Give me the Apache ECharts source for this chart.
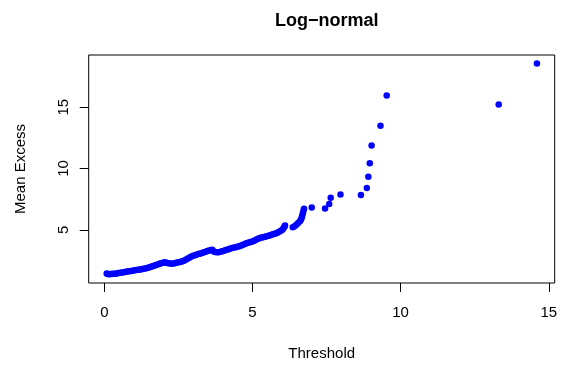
<!DOCTYPE html>
<html>
<head>
<meta charset="utf-8">
<script src="https://cdn.jsdelivr.net/npm/echarts@6/dist/echarts.min.js"></script>
<style>html,body{margin:0;padding:0;background:#fff;}#c{width:567px;height:366px;}</style>
</head>
<body>
<div id="c"></div>
<script>
var titleText = "Log\u2212normal";
var xName = "Threshold";
var yName = "Mean Excess";
var xTicks = [0, 5, 10, 15];
var yTicks = [5, 10, 15];
var thresholds = [
  0.08,0.12,0.16,0.20,0.25,0.30,0.36,0.42,0.48,0.54,0.60,0.66,0.72,0.78,0.84,0.90,0.96,
  1.02,1.08,1.14,1.20,1.26,1.32,1.38,1.44,1.50,1.56,1.62,1.68,1.74,1.80,1.86,1.92,1.98,
  2.04,2.10,2.16,2.22,2.28,2.34,2.40,2.46,2.52,2.58,2.64,2.70,2.76,2.82,2.88,2.94,
  3.00,3.06,3.12,3.18,3.24,3.30,3.36,3.42,3.48,3.54,3.60,3.64,3.68,3.74,3.80,3.86,3.92,3.98,
  4.04,4.10,4.16,4.22,4.28,4.34,4.40,4.46,4.52,4.58,4.64,4.70,4.76,4.82,4.88,4.94,
  5.00,5.06,5.12,5.18,5.24,5.30,5.36,5.42,5.48,5.54,5.60,5.66,5.72,5.78,5.84,5.90,5.96,
  6.01,6.05,6.08,6.10,6.36,6.42,6.48,6.54,6.60,6.64,6.66,6.68,6.70,6.72,6.74,
  7.00,7.45,7.59,7.64,7.97,8.66,8.86,8.91,8.96,9.02,9.32,9.53,13.31,14.60
];
var meanExcess = [
  1.45,1.40,1.38,1.40,1.41,1.42,1.42,1.45,1.48,1.50,1.52,1.55,1.58,1.61,1.63,1.65,1.67,
  1.70,1.72,1.75,1.78,1.80,1.83,1.86,1.90,1.94,1.98,2.03,2.08,2.13,2.18,2.23,2.28,2.33,
  2.36,2.32,2.28,2.25,2.24,2.26,2.30,2.34,2.37,2.41,2.45,2.50,2.58,2.66,2.74,2.82,
  2.89,2.94,2.99,3.03,3.07,3.12,3.17,3.22,3.27,3.31,3.36,3.38,3.26,3.20,3.17,3.18,3.22,3.26,
  3.30,3.35,3.40,3.45,3.50,3.54,3.57,3.60,3.64,3.69,3.75,3.81,3.87,3.92,3.97,4.01,
  4.05,4.12,4.20,4.27,4.32,4.37,4.40,4.43,4.47,4.52,4.57,4.62,4.66,4.71,4.77,4.84,4.92,
  5.00,5.15,5.28,5.36,5.22,5.30,5.42,5.55,5.70,5.85,6.00,6.15,6.35,6.55,6.72,
  6.82,6.74,7.10,7.62,7.89,7.84,8.42,9.33,10.43,11.87,13.48,15.94,15.22,18.55
];

var pts = thresholds.map(function (t, i) { return [t, meanExcess[i]]; });
var FONT = "Liberation Sans, Arial, Helvetica, sans-serif";
var chart = echarts.init(document.getElementById('c'), null, {renderer: 'canvas'});
chart.setOption({
  animation: false,
  backgroundColor: '#ffffff',
  title: {
    text: titleText,
    left: 321.7, top: 7, textAlign: 'center',
    textStyle: {fontFamily: FONT, fontSize: 18, fontWeight: 'bold', color: '#000'}
  },
  grid: {
    left: 88.7, right: 12.3, top: 55, bottom: 79.3,
    show: true, borderColor: '#000', borderWidth: 1, backgroundColor: 'transparent'
  },
  xAxis: {
    type: 'value', min: -0.527, max: 15.2,
    name: xName, nameLocation: 'middle', nameGap: 63,
    nameTextStyle: {fontFamily: FONT, fontSize: 15, color: '#000'},
    axisLine: {show: false, onZero: false},
    splitLine: {show: false},
    axisTick: {show: true, inside: false, length: 9, customValues: xTicks, lineStyle: {color: '#000', width: 1}},
    axisLabel: {show: true, margin: 22, customValues: xTicks, fontFamily: FONT, fontSize: 15, color: '#000'}
  },
  yAxis: {
    type: 'value', min: 0.67, max: 19.25,
    name: yName, nameLocation: 'middle', nameGap: 60, nameRotate: 90,
    nameTextStyle: {fontFamily: FONT, fontSize: 15, color: '#000'},
    axisLine: {show: false, onZero: false},
    splitLine: {show: false},
    axisTick: {show: true, inside: false, length: 9, customValues: yTicks, lineStyle: {color: '#000', width: 1}},
    axisLabel: {show: true, margin: 17, rotate: 90, customValues: yTicks, fontFamily: FONT, fontSize: 15, color: '#000'}
  },
  series: [{
    type: 'scatter',
    data: pts,
    symbol: 'circle',
    symbolSize: 6.5,
    itemStyle: {color: '#0000ff', opacity: 1},
    silent: true
  }]
});
</script>
</body>
</html>
